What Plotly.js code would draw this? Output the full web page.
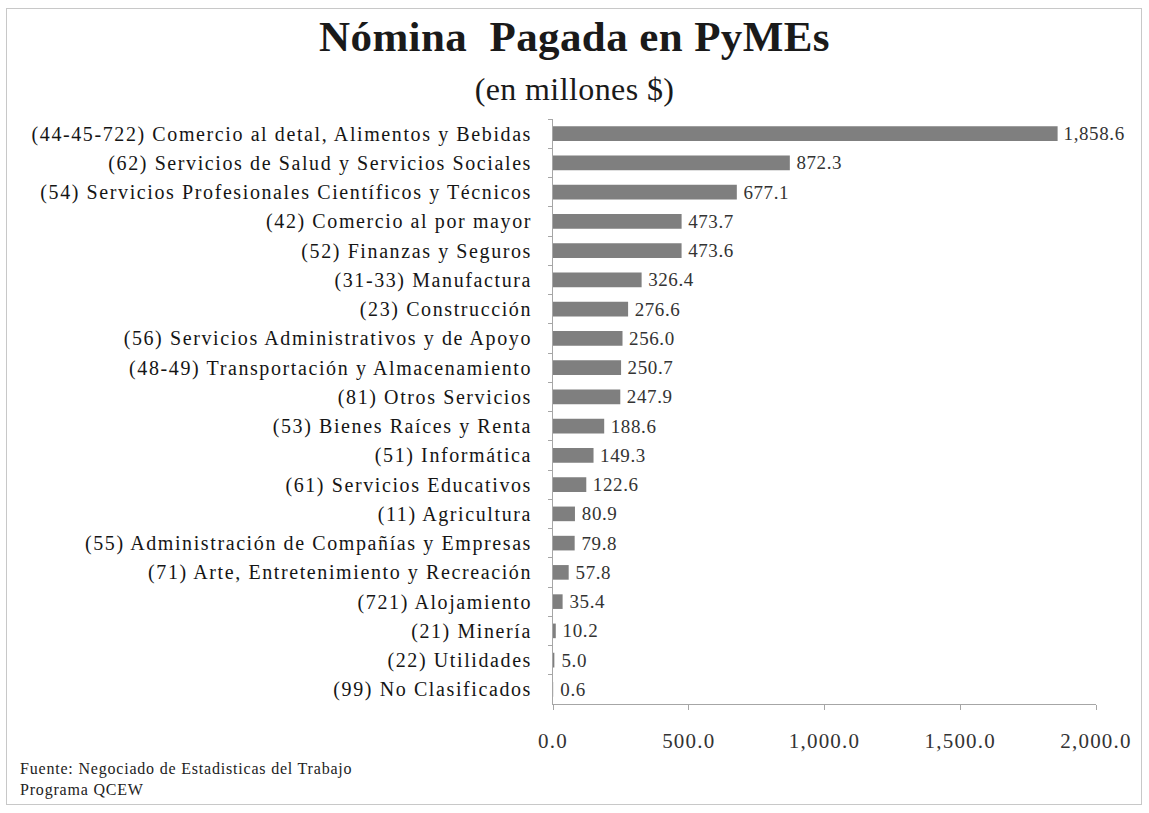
<!DOCTYPE html>
<html>
<head>
<meta charset="utf-8">
<script src="https://cdn.plot.ly/plotly-3.0.1.min.js"></script>
<style>
  html, body { margin: 0; padding: 0; background: #fff; }
  #wrap { position: relative; width: 1149px; height: 813px; }
  #frame { position: absolute; left: 6px; top: 8px; width: 1136px; height: 797px; border: 1px solid #c8c8c8; box-sizing: border-box; pointer-events: none; }
  #chart { position: absolute; left: 0; top: 0; width: 1149px; height: 813px; }
  #chart .ytick text { letter-spacing: 1.6px; }
  #chart .xtick text { letter-spacing: 1.2px; }
  #chart .bartext { letter-spacing: 0.6px; }
  #chart .annotation-text { letter-spacing: 0.8px; }
  #chart .gtitle { letter-spacing: 0.4px; }
</style>
</head>
<body>
<div id="wrap">
  <div id="chart"></div>
  <div id="frame"></div>
</div>
<script>
const categories = [
  "(44-45-722) Comercio al detal, Alimentos y Bebidas",
  "(62) Servicios de Salud y Servicios Sociales",
  "(54) Servicios Profesionales Científicos y Técnicos",
  "(42) Comercio al por mayor",
  "(52) Finanzas y Seguros",
  "(31-33) Manufactura",
  "(23) Construcción",
  "(56) Servicios Administrativos y de Apoyo",
  "(48-49) Transportación y Almacenamiento",
  "(81) Otros Servicios",
  "(53) Bienes Raíces y Renta",
  "(51) Informática",
  "(61) Servicios Educativos",
  "(11) Agricultura",
  "(55) Administración de Compañías y Empresas",
  "(71) Arte, Entretenimiento y Recreación",
  "(721) Alojamiento",
  "(21) Minería",
  "(22) Utilidades",
  "(99) No Clasificados"
];
const values = [1858.6, 872.3, 677.1, 473.7, 473.6, 326.4, 276.6, 256.0, 250.7, 247.9, 188.6, 149.3, 122.6, 80.9, 79.8, 57.8, 35.4, 10.2, 5.0, 0.6];
const xTickVals = [0, 500, 1000, 1500, 2000];
const titleText = "Nómina  Pagada en PyMEs";
const subtitleText = "(en millones $)";

const serif = "'Liberation Serif', 'Times New Roman', serif";

const trace = {
  type: "bar",
  orientation: "h",
  y: categories,
  x: values,
  width: 0.5,
  marker: { color: "#7f7f7f" },
  texttemplate: " %{x:,.1f}",
  textposition: "outside",
  constraintext: "none",
  cliponaxis: false,
  textfont: { family: serif, size: 19, color: "#333333" },
  hoverinfo: "none"
};

const L = 553, R = 53, W = 1149, H = 813;

const layout = {
  width: W,
  height: H,
  margin: { l: L, r: R, t: 119, b: 109 },
  paper_bgcolor: "#ffffff",
  plot_bgcolor: "#ffffff",
  showlegend: false,
  font: { family: serif, color: "#222222" },
  title: {
    text: "<span style='font-size:43px'><b>" + titleText + "</b></span><br><span style='font-size:32px'>" + subtitleText + "</span>",
    font: { family: serif, size: 38, color: "#1a1a1a" },
    x: 0.5, xanchor: "center",
    xref: "container", yref: "container",
    y: 1 - 51 / H, yanchor: "middle"
  },
  xaxis: {
    range: [0, 2000],
    tickvals: xTickVals,
    tickformat: ",.1f",
    showgrid: false,
    zeroline: false,
    showline: true,
    linecolor: "#a6a6a6",
    linewidth: 1,
    ticks: "outside",
    ticklen: 5,
    tickcolor: "#a6a6a6",
    ticklabelstandoff: 13,
    tickfont: { family: serif, size: 21, color: "#333333" },
    fixedrange: true
  },
  yaxis: {
    autorange: "reversed",
    type: "category",
    showgrid: false,
    zeroline: false,
    showline: true,
    linecolor: "#a6a6a6",
    linewidth: 1,
    ticks: "outside",
    tickson: "boundaries",
    ticklen: 4,
    tickcolor: "#a6a6a6",
    ticklabelstandoff: 16,
    tickfont: { family: serif, size: 20, color: "#151515" },
    fixedrange: true
  },
  annotations: [
    {
      text: "Fuente: Negociado de Estadisticas del Trabajo<br>Programa QCEW",
      xref: "paper", yref: "paper",
      x: 0, xshift: -535, y: 0, yshift: -54,
      xanchor: "left", yanchor: "top",
      align: "left",
      showarrow: false,
      font: { family: serif, size: 16, color: "#222222" }
    }
  ]
};

Plotly.newPlot("chart", [trace], layout, { displayModeBar: false, staticPlot: true });
</script>
</body>
</html>
